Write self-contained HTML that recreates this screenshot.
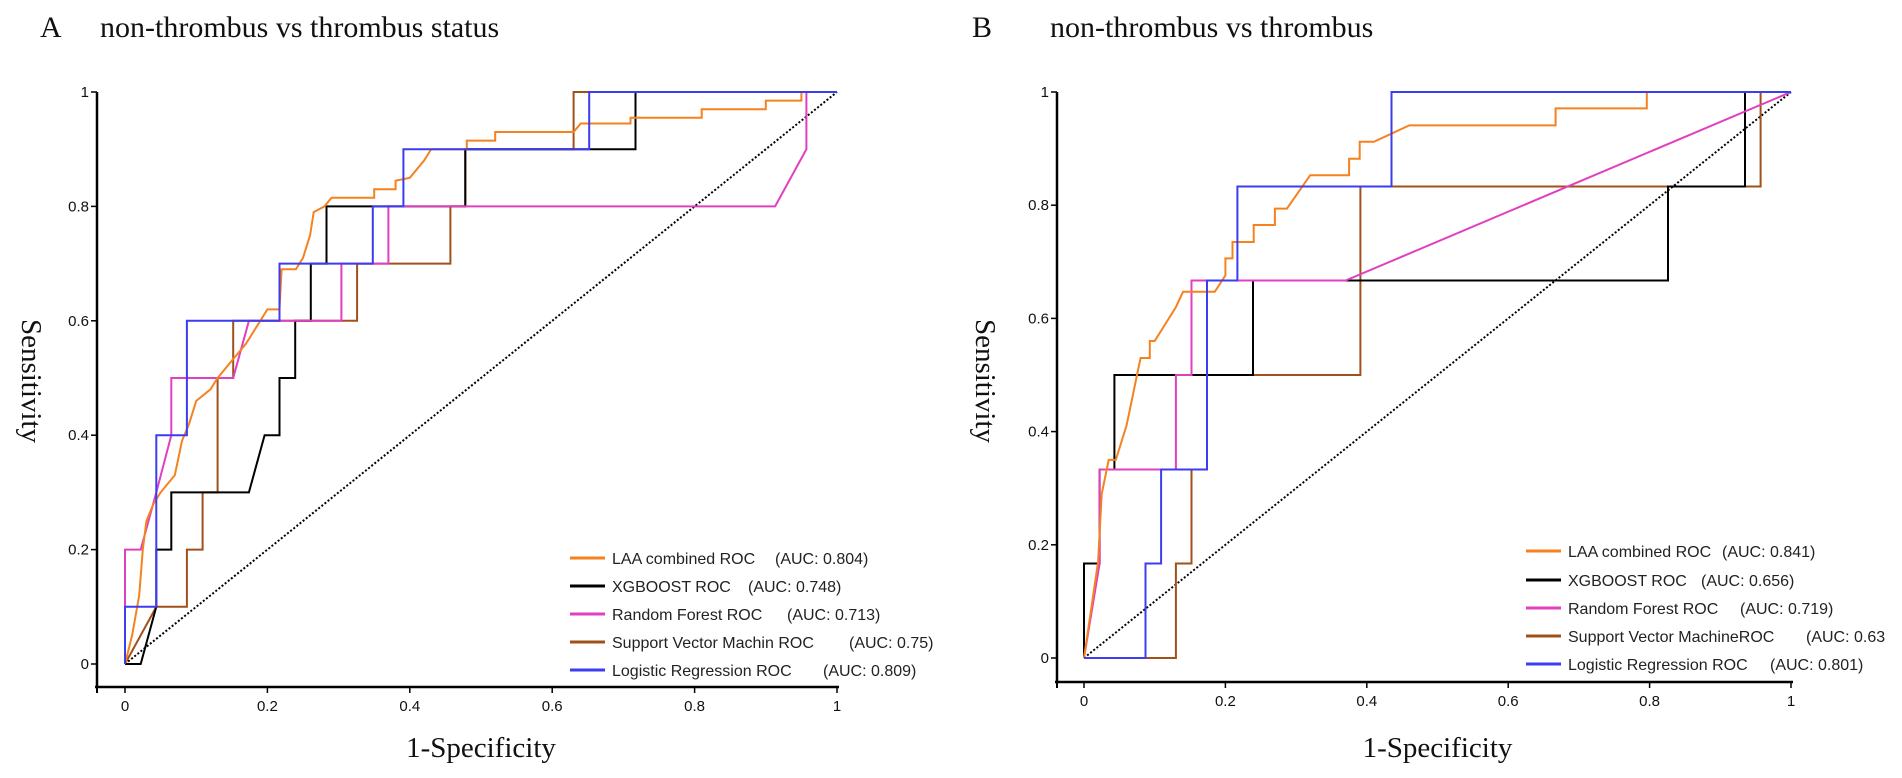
<!DOCTYPE html>
<html><head><meta charset="utf-8">
<style>
html,body{margin:0;padding:0;background:#fff;}
svg{display:block;}
.tick{font-family:"Liberation Sans",sans-serif;font-size:15px;fill:#111;}
.leg{font-family:"Liberation Sans",sans-serif;font-size:16px;fill:#222;}
.ttl{font-family:"Liberation Serif",serif;font-size:30px;fill:#111;}
.axt{font-family:"Liberation Serif",serif;font-size:29px;fill:#111;}
</style></head>
<body>
<svg id="chart" width="1902" height="778" viewBox="0 0 1902 778" xmlns="http://www.w3.org/2000/svg"></svg>
<script>
// ---- data ----
const ticks = [0, 0.2, 0.4, 0.6, 0.8, 1];
const tickLabels = ["0", "0.2", "0.4", "0.6", "0.8", "1"];
const seriesNames = ["LAA combined ROC", "XGBOOST ROC", "Random Forest ROC", "Support Vector Machin ROC", "Logistic Regression ROC"];
const seriesNamesB = ["LAA combined ROC", "XGBOOST ROC", "Random Forest ROC", "Support Vector MachineROC", "Logistic Regression ROC"];
const aucA = ["(AUC: 0.804)", "(AUC: 0.748)", "(AUC: 0.713)", "(AUC: 0.75)", "(AUC: 0.809)"];
const aucB = ["(AUC: 0.841)", "(AUC: 0.656)", "(AUC: 0.719)", "(AUC: 0.63", "(AUC: 0.801)"];

const A_laa_x = [0,0.01,0.02,0.025,0.03,0.04,0.05,0.07,0.08,0.09,0.1,0.12,0.13,0.15,0.17,0.19,0.2,0.217,0.22,0.24,0.25,0.26,0.265,0.28,0.29,0.35,0.35,0.38,0.38,0.4,0.42,0.43,0.48,0.48,0.52,0.52,0.63,0.64,0.71,0.71,0.81,0.81,0.9,0.9,0.95,0.95,1];
const A_laa_y = [0,0.05,0.12,0.2,0.25,0.28,0.3,0.33,0.39,0.42,0.46,0.48,0.5,0.53,0.56,0.6,0.62,0.62,0.69,0.69,0.71,0.75,0.79,0.8,0.815,0.815,0.83,0.83,0.845,0.85,0.88,0.9,0.9,0.915,0.915,0.93,0.93,0.945,0.945,0.955,0.955,0.97,0.97,0.985,0.985,1,1];
const A_xgb_x = [0,0.022,0.044,0.044,0.065,0.065,0.174,0.196,0.217,0.217,0.239,0.239,0.261,0.261,0.283,0.283,0.478,0.478,0.717,0.717,1];
const A_xgb_y = [0,0,0.1,0.2,0.2,0.3,0.3,0.4,0.4,0.5,0.5,0.6,0.6,0.7,0.7,0.8,0.8,0.9,0.9,1,1];
const A_rf_x = [0,0,0.022,0.044,0.065,0.065,0.152,0.174,0.304,0.304,0.37,0.37,0.913,0.957,0.957,1];
const A_rf_y = [0,0.2,0.2,0.3,0.4,0.5,0.5,0.6,0.6,0.7,0.7,0.8,0.8,0.9,1,1];
const A_svm_x = [0,0.044,0.087,0.087,0.109,0.109,0.13,0.13,0.152,0.152,0.326,0.326,0.457,0.457,0.478,0.478,0.63,0.63,1];
const A_svm_y = [0,0.1,0.1,0.2,0.2,0.3,0.3,0.5,0.5,0.6,0.6,0.7,0.7,0.8,0.8,0.9,0.9,1,1];
const A_lr_x = [0,0,0.044,0.044,0.087,0.087,0.217,0.217,0.348,0.348,0.391,0.391,0.652,0.652,1];
const A_lr_y = [0,0.1,0.1,0.4,0.4,0.6,0.6,0.7,0.7,0.8,0.8,0.9,0.9,1,1];

const B_laa_x = [0,0.02,0.025,0.03,0.035,0.045,0.06,0.065,0.075,0.08,0.093,0.093,0.1,0.13,0.14,0.185,0.2,0.2,0.21,0.21,0.24,0.24,0.27,0.27,0.287,0.32,0.375,0.375,0.39,0.39,0.41,0.46,0.667,0.667,0.796,0.796,1];
const B_laa_y = [0,0.17,0.29,0.32,0.35,0.35,0.41,0.44,0.5,0.53,0.53,0.56,0.56,0.62,0.647,0.647,0.676,0.706,0.706,0.735,0.735,0.765,0.765,0.794,0.794,0.853,0.853,0.882,0.882,0.912,0.912,0.941,0.941,0.971,0.971,1,1];
const B_xgb_x = [0,0,0.022,0.022,0.043,0.043,0.239,0.239,0.826,0.826,0.935,0.935,1];
const B_xgb_y = [0,0.167,0.167,0.333,0.333,0.5,0.5,0.667,0.667,0.833,0.833,1,1];
const B_rf_x = [0,0.022,0.022,0.13,0.13,0.152,0.152,0.37,1];
const B_rf_y = [0,0.167,0.333,0.333,0.5,0.5,0.667,0.667,1];
const B_svm_x = [0,0.13,0.13,0.152,0.152,0.174,0.174,0.391,0.391,0.957,0.957,1];
const B_svm_y = [0,0,0.167,0.167,0.333,0.333,0.5,0.5,0.833,0.833,1,1];
const B_lr_x = [0,0.087,0.087,0.109,0.109,0.174,0.174,0.217,0.217,0.435,0.435,1];
const B_lr_y = [0,0,0.167,0.167,0.333,0.333,0.667,0.667,0.833,0.833,1,1];

const colors = ["#f5821f", "#000000", "#e040c0", "#a0501a", "#3c3cf0"];

const NS = "http://www.w3.org/2000/svg";
const svg = document.getElementById("chart");
function mk(tag, attrs, parent) {
  const e = document.createElementNS(NS, tag);
  for (const k in attrs) e.setAttribute(k, attrs[k]);
  (parent || svg).appendChild(e);
  return e;
}

function panel(p) {
  const g = mk("g", {});
  
  
  const sx = v => p.x0 + v * (p.x1 - p.x0);
  const sy = v => p.y0 - v * (p.y0 - p.y1);
  const t1 = mk("text", {x: p.letterX, y: 37, class: "ttl"}, g); t1.textContent = p.letter;
  
  
  const t2 = mk("text", {x: p.titleX, y: 37, class: "ttl"}, g); t2.textContent = p.title;
  
  
  const ya = mk("line", {x1: p.ax, y1: p.y1, x2: p.ax, y2: p.axY, stroke: "#000", "stroke-width": 2.5}, g);
  
  
  const xa = mk("line", {x1: p.ax - 2, y1: p.axY, x2: p.x1 + 2, y2: p.axY, stroke: "#000", "stroke-width": 2.5}, g);
  
  
  mk("line", {x1: p.ax, y1: p.axY, x2: p.ax, y2: p.axY + 6, stroke: "#000", "stroke-width": 2}, g);
  for (let i = 0; i < ticks.length; i++) {
    mk("line", {x1: sx(ticks[i]), y1: p.axY, x2: sx(ticks[i]), y2: p.axY + 6, stroke: "#000", "stroke-width": 1.5}, g);
    const xl = mk("text", {x: sx(ticks[i]), y: p.axY + 24, class: "tick", "text-anchor": "middle"}, g);
    xl.textContent = tickLabels[i];
    
    
    mk("line", {x1: p.ax - 6, y1: sy(ticks[i]), x2: p.ax, y2: sy(ticks[i]), stroke: "#000", "stroke-width": 1.5}, g);
    const yl = mk("text", {x: p.ax - 8, y: sy(ticks[i]) + 5, class: "tick", "text-anchor": "end"}, g);
    yl.textContent = tickLabels[i];
    
    
  }
  const xt = mk("text", {x: (p.x0 + p.x1) / 2, y: 757, class: "axt", "text-anchor": "middle"}, g);
  xt.textContent = "1-Specificity";
  
  
  const yt = mk("text", {x: 0, y: 0, class: "axt", "text-anchor": "middle", transform: `translate(${p.ytX},381) rotate(90)`}, g);
  yt.textContent = "Sensitivity";
  
  
  const dg = mk("line", {x1: sx(0), y1: sy(0), x2: sx(1), y2: sy(1), stroke: "#000", "stroke-width": 2, "stroke-dasharray": "2 2"}, g);
  
  
  const order = [3, 1, 2, 0, 4];
  for (const i of order) {
    const xs = p.sx[i], ys = p.sy[i];
    const pts = xs.map((v, k) => sx(v).toFixed(1) + "," + sy(ys[k]).toFixed(1)).join(" ");
    const pl = mk("polyline", {points: pts, fill: "none", stroke: colors[i], "stroke-width": 2, "stroke-linejoin": "miter"}, g);
    
    
  }
  for (let i = 0; i < 5; i++) {
    const y = p.legY[i];
    const lg = mk("g", {}, g);
    
    
    mk("line", {x1: p.legX, y1: y, x2: p.legX + 35, y2: y, stroke: colors[i], "stroke-width": 3}, lg);
    const tx = mk("text", {x: p.legX + 42, y: y + 6, class: "leg"}, lg);
    tx.textContent = p.names[i];
    const ta = mk("text", {x: p.aucX[i], y: y + 6, class: "leg"}, lg);
    ta.textContent = p.auc[i];
  }
}

panel({id: "a", letter: "A", title: "non-thrombus vs thrombus status", letterX: 40, titleX: 100,
  x0: 125, x1: 837, y0: 664, y1: 92, ax: 97, axY: 687, ytX: 22,
  sx: [A_laa_x, A_xgb_x, A_rf_x, A_svm_x, A_lr_x], sy: [A_laa_y, A_xgb_y, A_rf_y, A_svm_y, A_lr_y],
  names: seriesNames, auc: aucA, legX: 570, aucX: [775, 748, 787, 849, 823], legY: [558, 586, 614, 642, 670]});
panel({id: "b", letter: "B", title: "non-thrombus vs thrombus", letterX: 972, titleX: 1050,
  x0: 1084, x1: 1791, y0: 658, y1: 92, ax: 1057, axY: 682, ytX: 976,
  sx: [B_laa_x, B_xgb_x, B_rf_x, B_svm_x, B_lr_x], sy: [B_laa_y, B_xgb_y, B_rf_y, B_svm_y, B_lr_y],
  names: seriesNamesB, auc: aucB, legX: 1526, aucX: [1722, 1701, 1740, 1806, 1770], legY: [551, 580, 608, 636, 664]});
</script>
</body></html>
